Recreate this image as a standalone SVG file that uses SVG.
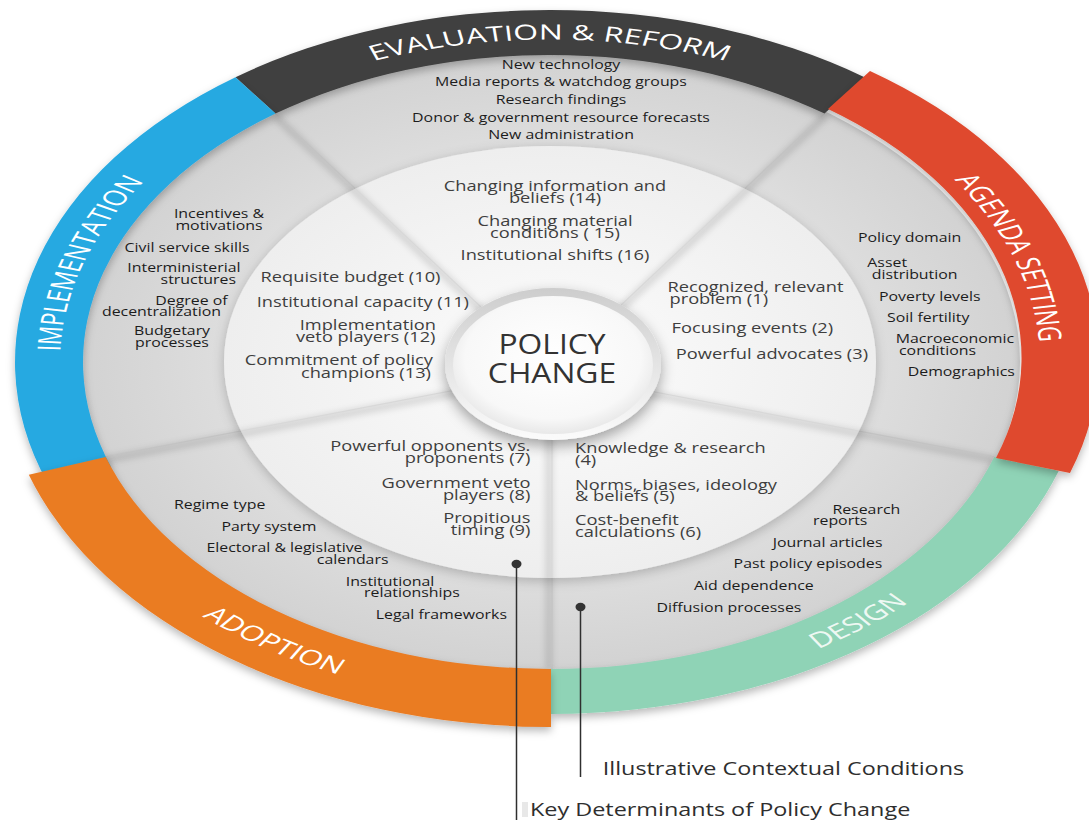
<svg xmlns="http://www.w3.org/2000/svg" xmlns:xlink="http://www.w3.org/1999/xlink" width="1089" height="820" viewBox="0 0 1089 820">
<defs>
<style>
.band-label{font-family:"Open Sans","Noto Sans",sans-serif;font-size:32px;fill:#ffffff;}
.design-label{fill:#eef8f3;}
.ctx{font-family:"Open Sans","Noto Sans",sans-serif;font-size:12.6px;fill:#1c1c1c;}
.det{font-family:"Open Sans","Noto Sans",sans-serif;font-size:14.5px;fill:#3e3e3e;}
.legend{font-family:"Open Sans","Noto Sans",sans-serif;font-size:18px;fill:#2e2e2e;}
.core{font-family:"Open Sans","Noto Sans",sans-serif;font-size:26.5px;fill:#333333;}
.seg-line{stroke:#c3c3c3;stroke-width:1.2;fill:none;}
.seg-line-w{stroke:#d8d8d8;stroke-width:1.2;fill:none;}
.seg-shadow{stroke:#000000;stroke-opacity:0.13;stroke-width:7;fill:none;}
.lead{stroke:#2f2f2f;stroke-width:1.5;fill:none;}
.dot{fill:#333333;}
.band{filter:url(#bandSh);}
</style>
<radialGradient id="grayG" cx="0.5" cy="0.5" r="0.5"><stop offset="0.68" stop-color="#dedede"/><stop offset="1" stop-color="#d2d2d2"/></radialGradient>
<radialGradient id="whiteG" cx="0.5" cy="0.5" r="0.5"><stop offset="0.3" stop-color="#f8f8f8"/><stop offset="1" stop-color="#eeeeee"/></radialGradient>
<linearGradient id="rimG" x1="0" y1="0" x2="0" y2="1"><stop offset="0" stop-color="#cdcdcd"/><stop offset="1" stop-color="#fbfbfb"/></linearGradient>
<radialGradient id="faceG" cx="0.5" cy="0.45" r="0.55"><stop offset="0" stop-color="#ffffff"/><stop offset="0.8" stop-color="#f8f8f8"/><stop offset="1" stop-color="#e8e8e8"/></radialGradient>
<filter id="bandSh" x="-5%" y="-5%" width="110%" height="120%"><feDropShadow dx="0" dy="4" stdDeviation="4" flood-color="#000" flood-opacity="0.28"/></filter>
<filter id="discSh" x="-5%" y="-5%" width="110%" height="115%"><feDropShadow dx="0" dy="3" stdDeviation="6" flood-color="#000" flood-opacity="0.22"/></filter>
<filter id="coreSh" x="-30%" y="-30%" width="160%" height="170%"><feDropShadow dx="0" dy="6" stdDeviation="7" flood-color="#000" flood-opacity="0.35"/></filter>
<filter id="blur" filterUnits="userSpaceOnUse" x="0" y="0" width="1089" height="820"><feGaussianBlur stdDeviation="3"/></filter>
<clipPath id="discClip"><ellipse cx="550" cy="362" rx="326" ry="216"/></clipPath>
<path id="pTop" d="M -424.4 -245 A 490 490 0 0 1 424.4 -245"/>
<path id="pImpl" d="M -424.4 245 A 490 490 0 0 1 -199.3 -447.6"/>
<path id="pAg" d="M 191.4 -451.1 A 490 490 0 0 1 428.6 237.6"/>
<path id="pDes" d="M -88.9 504.2 A 512 512 0 0 0 510.8 35.7"/>
<path id="pAdo" d="M -513.6 81.3 A 520 520 0 0 0 134.6 502.3"/>
</defs>

<rect x="0" y="0" width="1089" height="820" fill="#ffffff"/>

<g id="context-ring">
<ellipse cx="550" cy="362" rx="470" ry="309" fill="url(#grayG)"/>
<g filter="url(#blur)">
<line class="seg-shadow" x1="275.5" y1="116.6" x2="550" y2="375"/>
<line class="seg-shadow" x1="824.5" y1="116.6" x2="550" y2="375"/>
<line class="seg-shadow" x1="994.2" y1="459.9" x2="550" y2="375"/>
<line class="seg-shadow" x1="549" y1="669" x2="549" y2="375"/>
<line class="seg-shadow" x1="105.8" y1="459.9" x2="550" y2="375"/>
</g>
<line class="seg-line" x1="275.5" y1="113.6" x2="550" y2="372"/>
<line class="seg-line" x1="824.5" y1="113.6" x2="550" y2="372"/>
<line class="seg-line" x1="994.2" y1="456.9" x2="550" y2="372"/>
<line class="seg-line" x1="552" y1="669" x2="552" y2="372"/>
<line class="seg-line" x1="105.8" y1="456.9" x2="550" y2="372"/>
</g>

<g id="determinant-disc">
<ellipse cx="550" cy="362" rx="326" ry="216" fill="url(#whiteG)" filter="url(#discSh)"/>
<g clip-path="url(#discClip)">
<g filter="url(#blur)">
<line class="seg-shadow" x1="275.5" y1="116.6" x2="550" y2="375" stroke-opacity="0.07"/>
<line class="seg-shadow" x1="824.5" y1="116.6" x2="550" y2="375" stroke-opacity="0.07"/>
<line class="seg-shadow" x1="994.2" y1="459.9" x2="550" y2="375" stroke-opacity="0.1"/>
<line class="seg-shadow" x1="549" y1="669" x2="549" y2="375" stroke-opacity="0.07"/>
<line class="seg-shadow" x1="105.8" y1="459.9" x2="550" y2="375" stroke-opacity="0.08"/>
</g>
<line class="seg-line-w" x1="275.5" y1="113.6" x2="550" y2="372"/>
<line class="seg-line-w" x1="824.5" y1="113.6" x2="550" y2="372"/>
<line class="seg-line-w" x1="994.2" y1="456.9" x2="550" y2="372"/>
<line class="seg-line-w" x1="552" y1="669" x2="552" y2="372"/>
<line class="seg-line-w" x1="105.8" y1="456.9" x2="550" y2="372"/>
</g>
</g>

<g id="policy-change">
<ellipse cx="553" cy="364" rx="108" ry="76" fill="url(#rimG)" filter="url(#coreSh)"/>
<ellipse cx="553" cy="365" rx="100" ry="69" fill="url(#faceG)"/>
<text class="core" text-anchor="middle" transform="translate(552,354) scale(1.2,1)">POLICY</text>
<text class="core" text-anchor="middle" transform="translate(552,383) scale(1.2,1)">CHANGE</text>
</g>

<g id="evaluation-reform">
<path class="band" d="M 235.5 77.2 A 535 352 0 0 1 864.5 77.2 L 824.5 113.6 A 467 307 0 0 0 275.5 113.6 Z" fill="#404040"/>
<g transform="translate(550,362) scale(1,0.658)">
<text class="band-label"><textPath href="#pTop" xlink:href="#pTop" startOffset="50%" text-anchor="middle">EVALUATION &amp; REFORM</textPath></text>
</g>
<text class="ctx" text-anchor="middle" transform="translate(561,68.5) scale(1.26,1)">New technology</text>
<text class="ctx" text-anchor="middle" transform="translate(561,86) scale(1.26,1)">Media reports &amp; watchdog groups</text>
<text class="ctx" text-anchor="middle" transform="translate(561,104) scale(1.26,1)">Research findings</text>
<text class="ctx" text-anchor="middle" transform="translate(561,121.5) scale(1.26,1)">Donor &amp; government resource forecasts</text>
<text class="ctx" text-anchor="middle" transform="translate(561,139) scale(1.26,1)">New administration</text>
<text class="det" text-anchor="middle" transform="translate(555,190.5) scale(1.26,1)"><tspan x="0" y="0">Changing information and</tspan><tspan x="0" y="12">beliefs (14)</tspan></text>
<text class="det" text-anchor="middle" transform="translate(555,226.2) scale(1.26,1)"><tspan x="0" y="0">Changing material</tspan><tspan x="0" y="11.5">conditions ( 15)</tspan></text>
<text class="det" text-anchor="middle" transform="translate(555,260) scale(1.26,1)">Institutional shifts (16)</text>
</g>

<g id="implementation">
<path class="band" d="M 47.3 482.4 A 535 352 0 0 1 235.5 77.2 L 275.5 113.6 A 467 307 0 0 0 111.2 467 Z" fill="#27a9e1"/>
<g transform="translate(550,362) scale(1,0.658)">
<text class="band-label"><textPath href="#pImpl" xlink:href="#pImpl" startOffset="50%" text-anchor="middle">IMPLEMENTATION</textPath></text>
</g>
<text class="ctx" text-anchor="middle" transform="translate(219,218) scale(1.26,1)"><tspan x="0" y="0">Incentives &amp;</tspan><tspan x="0" y="12">motivations</tspan></text>
<text class="ctx" text-anchor="middle" transform="translate(187,251.7) scale(1.26,1)">Civil service skills</text>
<text class="ctx" text-anchor="end" transform="translate(240.5,272) scale(1.26,1)">Interministerial</text>
<text class="ctx" text-anchor="end" transform="translate(236,283.6) scale(1.26,1)">structures</text>
<text class="ctx" text-anchor="end" transform="translate(227.7,304.6) scale(1.26,1)">Degree of</text>
<text class="ctx" text-anchor="end" transform="translate(221,316) scale(1.26,1)">decentralization</text>
<text class="ctx" text-anchor="middle" transform="translate(172,334.8) scale(1.26,1)"><tspan x="0" y="0">Budgetary</tspan><tspan x="0" y="12">processes</tspan></text>
<text class="det" text-anchor="end" transform="translate(440.5,281.7) scale(1.26,1)">Requisite budget (10)</text>
<text class="det" text-anchor="end" transform="translate(469,306.7) scale(1.26,1)">Institutional capacity (11)</text>
<text class="det" text-anchor="end" transform="translate(436,329.6) scale(1.26,1)">Implementation</text>
<text class="det" text-anchor="end" transform="translate(435.5,341.8) scale(1.26,1)">veto players (12)</text>
<text class="det" text-anchor="end" transform="translate(433,365.3) scale(1.26,1)">Commitment of policy</text>
<text class="det" text-anchor="end" transform="translate(431,377.5) scale(1.26,1)">champions (13)</text>
</g>

<g id="design">
<path class="band" d="M 1058.8 470.8 A 535 352 0 0 1 551 714 L 551 669 A 467 307 0 0 0 994.2 456.9 Z" fill="#8fd3b6"/>
<g transform="translate(550,362) scale(1,0.658)">
<text class="band-label design-label"><textPath href="#pDes" xlink:href="#pDes" startOffset="50%" text-anchor="middle">DESIGN</textPath></text>
</g>
<text class="det" transform="translate(575,453) scale(1.26,1)"><tspan x="0" y="0">Knowledge &amp; research</tspan><tspan x="0" y="12">(4)</tspan></text>
<text class="det" transform="translate(575,489.6) scale(1.26,1)"><tspan x="0" y="0">Norms, biases, ideology</tspan><tspan x="0" y="11.5">&amp; beliefs (5)</tspan></text>
<text class="det" transform="translate(575,524.7) scale(1.26,1)"><tspan x="0" y="0">Cost-benefit</tspan><tspan x="0" y="12">calculations (6)</tspan></text>
<text class="ctx" transform="translate(832.4,513.7) scale(1.26,1)">Research</text>
<text class="ctx" transform="translate(813,525.3) scale(1.26,1)">reports</text>
<text class="ctx" transform="translate(772.8,546.7) scale(1.26,1)">Journal articles</text>
<text class="ctx" transform="translate(733.6,568.3) scale(1.26,1)">Past policy episodes</text>
<text class="ctx" transform="translate(694,590) scale(1.26,1)">Aid dependence</text>
<text class="ctx" transform="translate(656.6,612.3) scale(1.26,1)">Diffusion processes</text>
</g>

<g id="agenda-setting">
<path class="band" d="M 870 71 A 535 352 0 0 1 1070 473 L 996 458 A 467 307 0 0 0 828 109 Z" fill="#df4a2e"/>
<g transform="translate(550,362) scale(1,0.658)">
<text class="band-label"><textPath href="#pAg" xlink:href="#pAg" startOffset="50%" text-anchor="middle">AGENDA SETTING</textPath></text>
</g>
<text class="ctx" transform="translate(858,241.7) scale(1.26,1)">Policy domain</text>
<text class="ctx" transform="translate(867.3,267) scale(1.26,1)">Asset</text>
<text class="ctx" transform="translate(871.7,278.6) scale(1.26,1)">distribution</text>
<text class="ctx" transform="translate(879,300.7) scale(1.26,1)">Poverty levels</text>
<text class="ctx" transform="translate(887,321.7) scale(1.26,1)">Soil fertility</text>
<text class="ctx" transform="translate(895.7,343) scale(1.26,1)">Macroeconomic</text>
<text class="ctx" transform="translate(899,355.3) scale(1.26,1)">conditions</text>
<text class="ctx" transform="translate(907.7,376) scale(1.26,1)">Demographics</text>
<text class="det" transform="translate(667.4,292) scale(1.26,1)">Recognized, relevant</text>
<text class="det" transform="translate(669.5,304.3) scale(1.26,1)">problem (1)</text>
<text class="det" transform="translate(671.6,333) scale(1.26,1)">Focusing events (2)</text>
<text class="det" transform="translate(675.8,359) scale(1.26,1)">Powerful advocates (3)</text>
</g>

<g id="adoption">
<path class="band" d="M 551 727 A 548 365 0 0 1 28.8 474.8 L 105.8 456.9 A 467 307 0 0 0 551 669 Z" fill="#ea7b24"/>
<g transform="translate(550,362) scale(1,0.658)">
<text class="band-label"><textPath href="#pAdo" xlink:href="#pAdo" startOffset="50%" text-anchor="middle">ADOPTION</textPath></text>
</g>
<text class="det" text-anchor="end" transform="translate(530.4,451.4) scale(1.26,1)"><tspan x="0" y="0">Powerful opponents vs.</tspan><tspan x="0" y="12">proponents (7)</tspan></text>
<text class="det" text-anchor="end" transform="translate(530.4,488) scale(1.26,1)"><tspan x="0" y="0">Government veto</tspan><tspan x="0" y="11.6">players (8)</tspan></text>
<text class="det" text-anchor="end" transform="translate(530.4,523) scale(1.26,1)"><tspan x="0" y="0">Propitious</tspan><tspan x="0" y="12">timing (9)</tspan></text>
<text class="ctx" transform="translate(174,509.3) scale(1.26,1)">Regime type</text>
<text class="ctx" transform="translate(221.4,530.7) scale(1.26,1)">Party system</text>
<text class="ctx" transform="translate(206.4,552.4) scale(1.26,1)">Electoral &amp; legislative</text>
<text class="ctx" transform="translate(316.8,563.6) scale(1.26,1)">calendars</text>
<text class="ctx" transform="translate(345.7,585.7) scale(1.26,1)">Institutional</text>
<text class="ctx" transform="translate(364,597) scale(1.26,1)">relationships</text>
<text class="ctx" transform="translate(375.7,619) scale(1.26,1)">Legal frameworks</text>
</g>

<g id="connectors">
<line class="lead" x1="516.5" y1="564" x2="516.5" y2="820"/>
<ellipse class="dot" cx="516.5" cy="564" rx="5" ry="4.2"/>
<line class="lead" x1="580.5" y1="607" x2="580.5" y2="777"/>
<ellipse class="dot" cx="580.5" cy="607" rx="5" ry="4.2"/>
</g>

<g id="legend">
<text class="legend" transform="translate(602.7,775) scale(1.3,1)">Illustrative Contextual Conditions</text>
<rect x="522" y="802" width="6" height="15" fill="#e8e8e8"/>
<text class="legend" transform="translate(530,815.5) scale(1.3,1)">Key Determinants of Policy Change</text>
</g>
</svg>
